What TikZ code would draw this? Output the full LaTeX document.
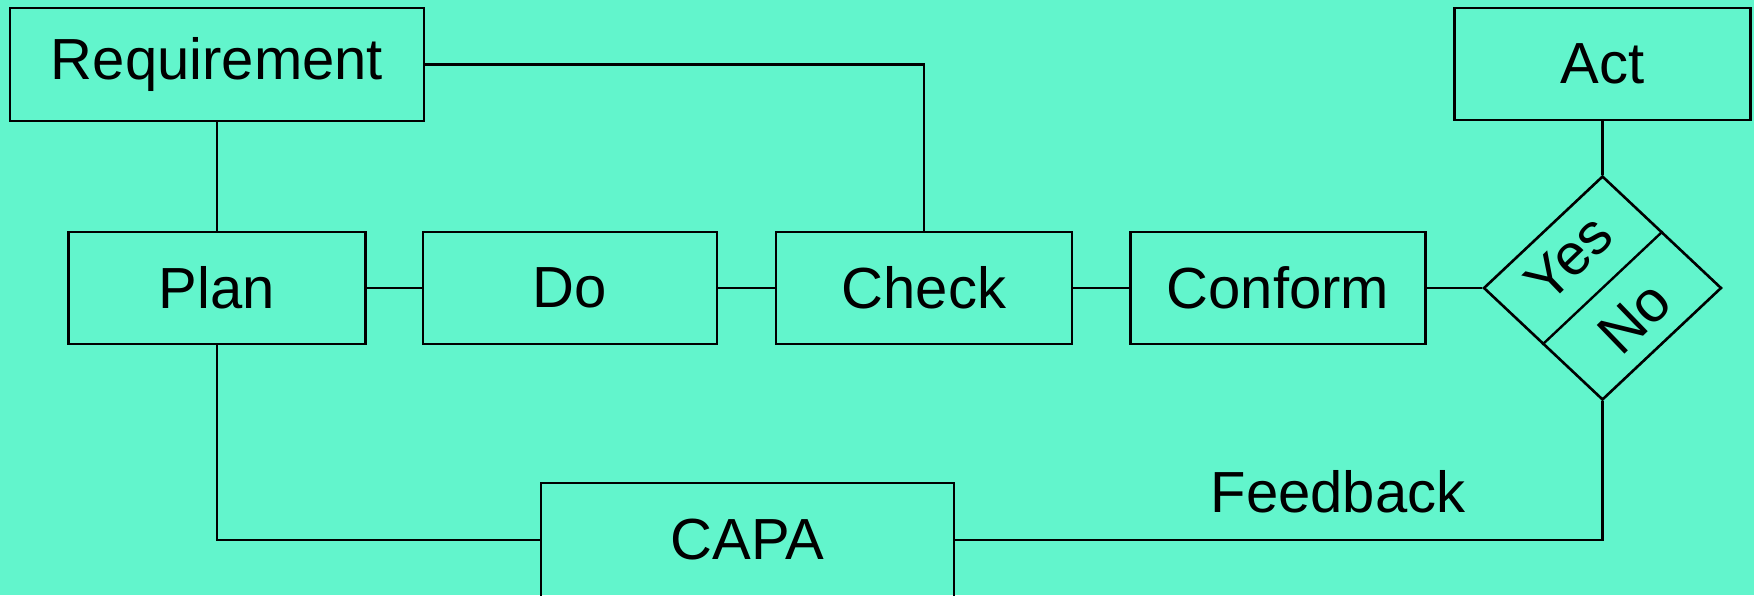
\documentclass[tikz,border=0pt]{standalone}
\usepackage{fontspec}
\setmainfont{Liberation Sans}
\usetikzlibrary{shapes.geometric,calc}
\definecolor{bgc}{RGB}{98,245,204}
\begin{document}
\begin{tikzpicture}[x=1pt,y=-1pt,
  every node/.style={font=\fontsize{58}{60}\selectfont},
  box/.style={draw=black,line width=2.6pt,rectangle,inner sep=0pt,minimum height=112pt},
  conn/.style={draw=black,line width=2.4pt},
  lbl/.style={inner sep=0pt}]
\fill[bgc] (0,0) rectangle (1754,595);
\useasboundingbox (0,0) rectangle (1754,595);
\clip (0,0) rectangle (1754,595);
\node[box,minimum width=414pt,minimum height=113pt] (req) at (217,64.5) {Requirement};
\node[box,minimum width=297pt] (plan) at (217,288) {Plan};
\node[box,minimum width=294pt] (do) at (570,288) {Do};
\node[box,minimum width=296pt] (check) at (924,288) {Check};
\node[box,minimum width=295pt] (conform) at (1278,288) {Conform};
\node[box,minimum width=296pt] (act) at (1602.5,64) {Act};
\node[draw=black,line width=2.6pt,diamond,inner sep=0pt,minimum width=238pt,minimum height=224pt,shape aspect=1.06] (dec) at (1602.5,288) {};
\node[box,minimum width=413pt,minimum height=114pt] (capa) at (747.5,540) {CAPA};
\node[lbl] (fb) at (1338,492) {Feedback};
\node[lbl,rotate=44] (yes) at (1569,258) {Yes};
\node[lbl,rotate=44] (no) at (1634,318) {No};
\draw[conn] ($(dec.north)!0.5!(dec.east)$) -- ($(dec.west)!0.5!(dec.south)$);
\draw[conn] (req.south) -- (plan.north);
\draw[conn] (req.east) -| (check.north);
\draw[conn] (plan.east) -- (do.west);
\draw[conn] (do.east) -- (check.west);
\draw[conn] (check.east) -- (conform.west);
\draw[conn] (conform.east) -- (dec.west);
\draw[conn] (act.south) -- (dec.north);
\draw[conn] (plan.south) |- (capa.west);
\draw[conn] (capa.east) -| (dec.south);
\end{tikzpicture}
\end{document}
